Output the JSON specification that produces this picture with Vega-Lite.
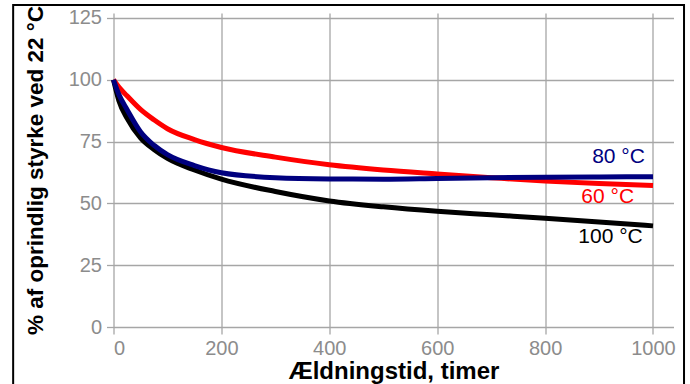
{
  "$schema": "https://vega.github.io/schema/vega-lite/v6.json",
  "width": 560,
  "height": 314,
  "autosize": {"type": "none"},
  "padding": {"left": 113.5, "top": 13, "right": 16.5, "bottom": 57},
  "background": "white",
  "config": {
    "font": "Liberation Sans",
    "view": {"stroke": null},
    "axis": {
      "domain": false,
      "grid": true,
      "gridColor": "#a6a6a6",
      "gridWidth": 1.3,
      "tickColor": "#a6a6a6",
      "tickWidth": 1.3,
      "tickSize": 7,
      "labelColor": "#8c8c8c",
      "labelFont": "Liberation Sans",
      "labelFontSize": 20,
      "labelPadding": 5,
      "titleFont": "Liberation Sans",
      "titleFontWeight": "bold",
      "titleColor": "black",
      "titleFontSize": 24
    }
  },
  "datasets": {
    "curves": [
      {"series": "100 °C", "t": 0, "pct": 100},
      {"series": "100 °C", "t": 10, "pct": 91.5},
      {"series": "100 °C", "t": 25, "pct": 84.5},
      {"series": "100 °C", "t": 50, "pct": 76.5},
      {"series": "100 °C", "t": 75, "pct": 71.8},
      {"series": "100 °C", "t": 100, "pct": 68.2},
      {"series": "100 °C", "t": 150, "pct": 63.5},
      {"series": "100 °C", "t": 200, "pct": 59.8},
      {"series": "100 °C", "t": 300, "pct": 54.8},
      {"series": "100 °C", "t": 400, "pct": 51},
      {"series": "100 °C", "t": 500, "pct": 48.6},
      {"series": "100 °C", "t": 600, "pct": 46.8},
      {"series": "100 °C", "t": 700, "pct": 45.4},
      {"series": "100 °C", "t": 800, "pct": 44},
      {"series": "100 °C", "t": 900, "pct": 42.5},
      {"series": "100 °C", "t": 1000, "pct": 40.9},
      {"series": "60 °C", "t": 0, "pct": 100},
      {"series": "60 °C", "t": 10, "pct": 97},
      {"series": "60 °C", "t": 25, "pct": 93.5},
      {"series": "60 °C", "t": 50, "pct": 88},
      {"series": "60 °C", "t": 75, "pct": 83.8},
      {"series": "60 °C", "t": 100, "pct": 80.2},
      {"series": "60 °C", "t": 150, "pct": 75.8},
      {"series": "60 °C", "t": 200, "pct": 72.6},
      {"series": "60 °C", "t": 300, "pct": 68.7},
      {"series": "60 °C", "t": 400, "pct": 65.6},
      {"series": "60 °C", "t": 500, "pct": 63.5},
      {"series": "60 °C", "t": 600, "pct": 61.9},
      {"series": "60 °C", "t": 700, "pct": 60.4},
      {"series": "60 °C", "t": 800, "pct": 59},
      {"series": "60 °C", "t": 900, "pct": 58},
      {"series": "60 °C", "t": 1000, "pct": 57.2},
      {"series": "80 °C", "t": 0, "pct": 100},
      {"series": "80 °C", "t": 10, "pct": 94},
      {"series": "80 °C", "t": 25, "pct": 88},
      {"series": "80 °C", "t": 50, "pct": 79},
      {"series": "80 °C", "t": 75, "pct": 73.5},
      {"series": "80 °C", "t": 100, "pct": 69.7},
      {"series": "80 °C", "t": 150, "pct": 65.3},
      {"series": "80 °C", "t": 200, "pct": 62.4},
      {"series": "80 °C", "t": 300, "pct": 60.4},
      {"series": "80 °C", "t": 400, "pct": 59.9},
      {"series": "80 °C", "t": 500, "pct": 59.8},
      {"series": "80 °C", "t": 600, "pct": 60.1},
      {"series": "80 °C", "t": 700, "pct": 60.4},
      {"series": "80 °C", "t": 800, "pct": 60.6},
      {"series": "80 °C", "t": 900, "pct": 60.7},
      {"series": "80 °C", "t": 1000, "pct": 60.8}
    ],
    "labels": [
      {"series": "80 °C", "t": 985, "pct": 68.8},
      {"series": "60 °C", "t": 965, "pct": 52.6},
      {"series": "100 °C", "t": 981, "pct": 36.5}
    ]
  },
  "layer": [
    {
      "data": {"values": [{}]},
      "mark": {"type": "rect", "filled": false, "stroke": "black", "strokeWidth": 2, "clip": false},
      "encoding": {
        "x": {"datum": -186, "type": "quantitative"},
        "x2": {"datum": 1057.5},
        "y": {"datum": 130.2, "type": "quantitative"},
        "y2": {"datum": -30}
      }
    },
    {
      "data": {"name": "curves"},
      "mark": {"type": "line", "strokeWidth": 5, "interpolate": "monotone"},
      "encoding": {
        "x": {
          "field": "t", "type": "quantitative",
          "scale": {"domain": [0, 1038], "nice": false, "zero": false},
          "axis": {"values": [0, 200, 400, 600, 800, 1000], "format": "d", "labelPadding": 4, "title": "Ældningstid, timer", "titlePadding": 1}
        },
        "y": {
          "field": "pct", "type": "quantitative",
          "scale": {"domain": [0, 127], "nice": false},
          "axis": {"values": [0, 25, 50, 75, 100, 125], "title": "% af oprindlig styrke ved 22 °C", "titlePadding": 21, "titleFontSize": 22.5}
        },
        "color": {
          "field": "series", "type": "nominal",
          "scale": {"domain": ["100 °C", "60 °C", "80 °C"], "range": ["#000000", "#ff0000", "#00007f"]},
          "legend": null
        }
      }
    },
    {
      "data": {"name": "labels"},
      "mark": {"type": "text", "align": "right", "baseline": "middle", "fontSize": 21, "font": "Liberation Sans"},
      "encoding": {
        "x": {"field": "t", "type": "quantitative"},
        "y": {"field": "pct", "type": "quantitative"},
        "text": {"field": "series"},
        "color": {"field": "series", "type": "nominal", "legend": null}
      }
    }
  ]
}
